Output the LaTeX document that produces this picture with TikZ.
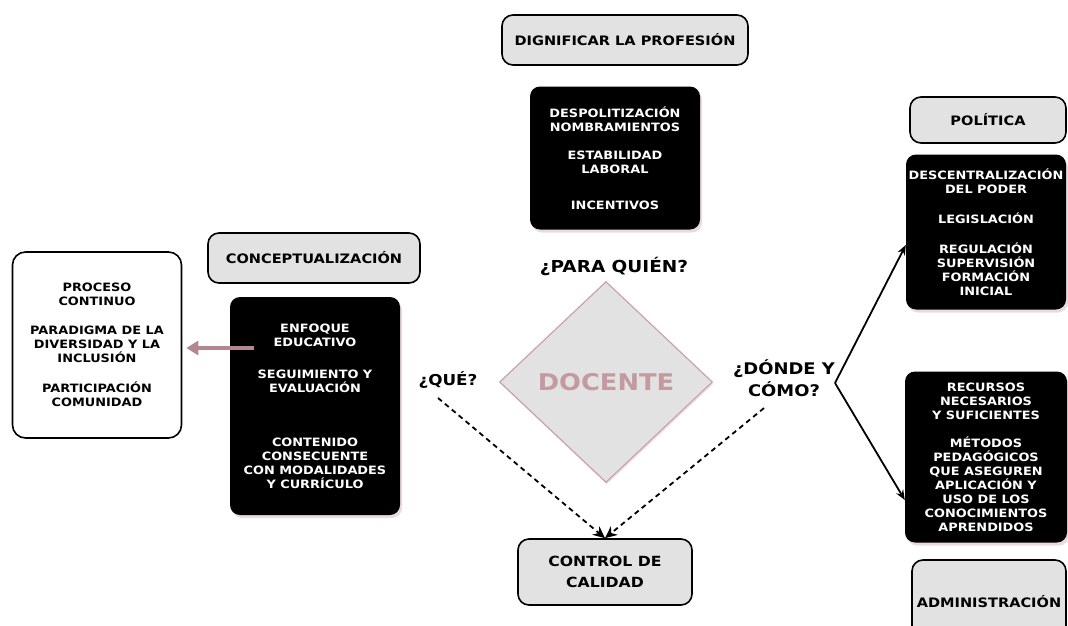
\documentclass[tikz,border=0pt]{standalone}
\usepackage{fontspec}
\setmainfont{DejaVu Sans}[FakeStretch=1.12]
\usetikzlibrary{shapes, arrows.meta, shadows}
\definecolor{labelgray}{HTML}{E2E2E2}
\definecolor{rosa}{HTML}{C49AA1}
\definecolor{rosaline}{HTML}{C9A3AA}
\definecolor{rosaarrow}{HTML}{B3878F}
\tikzset{labelbox/.style={draw, rounded corners=11pt, fill=labelgray, line width=1.6pt, inner sep=0pt, font=\bfseries\fontsize{13}{16}\selectfont}}
\tikzset{blackbox/.style={fill=black, rounded corners=10pt, text=white, align=center, inner sep=0pt, font=\bfseries\fontsize{11.5}{14}\selectfont, drop shadow={shadow xshift=2pt, shadow yshift=-3pt, fill=rosa, opacity=0.35}}}
\tikzset{whitebox/.style={draw, fill=white, rounded corners=13pt, line width=1.6pt, align=center, inner sep=0pt, font=\bfseries\fontsize{11.5}{14}\selectfont}}
\tikzset{question/.style={align=center, font=\bfseries\fontsize{16}{22}\selectfont}}
\tikzset{dashto/.style={dash pattern=on 5pt off 4pt, line width=1.8pt, -{Stealth[length=12pt, width=11pt]}}}
\tikzset{solidto/.style={line width=1.8pt, -{Stealth[length=10pt, width=8pt]}}}

\begin{document}
\begin{tikzpicture}[x=1pt, y=-1pt]
    \useasboundingbox (0,0) rectangle (1068,626);

    % centre
    \node[labelbox, minimum width=246pt, minimum height=50pt] (Dig) at (625,40) {DIGNIFICAR LA PROFESIÓN};
    \node[blackbox, minimum width=170pt, minimum height=143pt] (Top) at (615,158)
        {DESPOLITIZACIÓN\\NOMBRAMIENTOS\\[14pt]ESTABILIDAD\\LABORAL\\[22pt]INCENTIVOS};
    \node[question, font=\bfseries\fontsize{16.5}{22}\selectfont] (Quien) at (614,266) {¿PARA QUIÉN?};
    \node[diamond, draw=rosaline, fill=labelgray, line width=1.2pt, inner sep=0pt,
          minimum width=213pt, minimum height=201pt, text=rosa,
          font=\bfseries\fontsize{23}{30}\selectfont,
          drop shadow={shadow xshift=1pt, shadow yshift=-2pt, fill=rosa, opacity=0.3}] (Doc) at (606,382) {DOCENTE};
    \node[question, font=\bfseries\fontsize{15}{18}\selectfont] (Que) at (448,380) {¿QUÉ?};
    \node[question] (Donde) at (784,378) {¿DÓNDE Y\\CÓMO?};
    \node[labelbox, minimum width=174pt, minimum height=66pt, align=center,
          font=\bfseries\fontsize{14}{21}\selectfont] (Ctrl) at (605,572) {CONTROL DE\\CALIDAD};

    \draw[dashto] ([xshift=-10pt, yshift=-6pt]Que.south) -- (Ctrl.north);
    \draw[dashto] ([xshift=-20pt, yshift=-8pt]Donde.south) -- (Ctrl.north);

    % left
    \node[labelbox, minimum width=212pt, minimum height=50pt] (Conc) at (314,258) {CONCEPTUALIZACIÓN};
    \node[blackbox, minimum width=170pt, minimum height=218pt] (Left) at (315,406)
        {ENFOQUE\\EDUCATIVO\\[18pt]SEGUIMIENTO Y\\EVALUACIÓN\\[40pt]CONTENIDO\\CONSECUENTE\\CON MODALIDADES\\Y CURRÍCULO};
    \node[whitebox, minimum width=169pt, minimum height=186pt] (Proc) at (97,345)
        {PROCESO\\CONTINUO\\[15pt]PARADIGMA DE LA\\DIVERSIDAD Y LA\\INCLUSIÓN\\[16pt]PARTICIPACIÓN\\COMUNIDAD};
    \coordinate (Enf) at (254,348);
    \draw[rosaarrow, line width=3.5pt, -{Triangle[length=12pt, width=14pt]}, shorten >=4pt] (Enf) -- (Proc.east |- Enf);

    % right
    \node[labelbox, minimum width=156pt, minimum height=46pt] (Pol) at (988,120) {POLÍTICA};
    \node[blackbox, minimum width=160pt, minimum height=155pt] (RTop) at (986,232)
        {DESCENTRALIZACIÓN\\DEL PODER\\[16pt]LEGISLACIÓN\\[16pt]REGULACIÓN\\SUPERVISIÓN\\FORMACIÓN\\INICIAL};
    \node[blackbox, minimum width=162pt, minimum height=171pt] (RBot) at (986,457)
        {RECURSOS\\NECESARIOS\\Y SUFICIENTES\\[14pt]MÉTODOS\\PEDAGÓGICOS\\QUE ASEGUREN\\APLICACIÓN Y\\USO DE LOS\\CONOCIMIENTOS\\APRENDIDOS};
    \node[labelbox, minimum width=154pt, minimum height=84pt] (Adm) at (989,602) {ADMINISTRACIÓN};

    \coordinate (Fork) at (835,383);
    \draw[solidto] (Fork) -- ([yshift=-13pt]RTop.west);
    \draw[solidto] (Fork) -- ([yshift=-43pt]RBot.west);

\end{tikzpicture}
\end{document}
